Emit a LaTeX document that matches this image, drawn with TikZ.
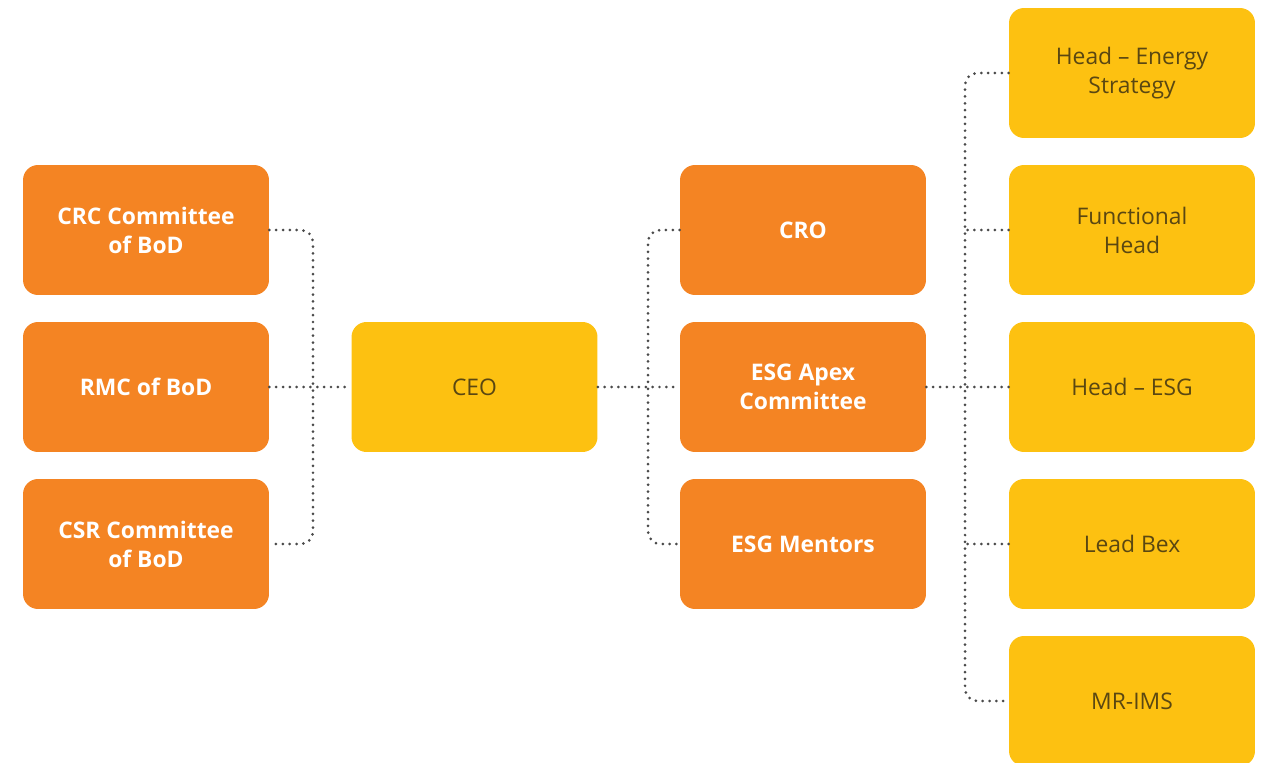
\documentclass[tikz,border=0pt]{standalone}
\usepackage{fontspec}
\setmainfont{Open Sans}
\usepackage{xcolor}
\definecolor{esgorange}{HTML}{F48423}
\definecolor{esgyellow}{HTML}{FDC111}
\definecolor{esgtext}{HTML}{5A4712}
\definecolor{esgdots}{HTML}{4A4A4A}

\begin{document}
\begin{tikzpicture}[every text node part/.style={align=center}, x = 0.02cm, y = -0.02cm]
			\tikzstyle{unit} = [rectangle, rounded corners = 0.3cm, minimum width = 4.92cm, minimum height = 2.6cm, inner sep = 0pt, font = \fontsize{13}{16.5}\selectfont]
			\tikzstyle{board} = [unit, fill = esgorange, text = white, font = \fontsize{13}{16.5}\selectfont\bfseries]
			\tikzstyle{lead} = [unit, fill = esgyellow, text = esgtext]
			\tikzstyle{link} = [draw = esgdots, line width = 1.7pt, line cap = round, dash pattern = on 0pt off 3.9pt, rounded corners = 0.25cm]
			\useasboundingbox (0, 0) rectangle (1261, 763);

			\path (146, 230) node[board] (crc) {CRC Committee\\of BoD};
			\path (146, 387) node[board] (rmc) {RMC of BoD};
			\path (146, 544) node[board] (csr) {CSR Committee\\of BoD};
			\path (474.5, 387) node[lead] (ceo) {CEO};
			\path (803, 230) node[board] (cro) {CRO};
			\path (803, 387) node[board] (apex) {ESG Apex\\Committee};
			\path (803, 544) node[board] (mentors) {ESG Mentors};
			\path (1132, 73) node[lead] (energy) {Head -- Energy\\Strategy};
			\path (1132, 230) node[lead] (functional) {Functional\\Head};
			\path (1132, 387) node[lead] (headesg) {Head -- ESG};
			\path (1132, 544) node[lead] (bex) {Lead Bex};
			\path (1132, 701) node[lead] (mrims) {MR-IMS};

			\coordinate (leftbus) at (313, 387);
			\coordinate (midbus) at (648, 387);
			\coordinate (rightbus) at (965, 387);

			\path[link] (crc.east) -| (leftbus) |- (csr.east);
			\path[link] (rmc.east) -- (ceo.west);

			\path[link] (cro.west) -| (midbus) |- (mentors.west);
			\path[link] (ceo.east) -- (apex.west);

			\path[link] (energy.west) -| (rightbus) |- (mrims.west);
			\path[link] (apex.east) -- (headesg.west);
			\path[link] (functional.west) -- (functional.west -| rightbus);
			\path[link] (bex.west) -- (bex.west -| rightbus);
		\end{tikzpicture}
\end{document}
